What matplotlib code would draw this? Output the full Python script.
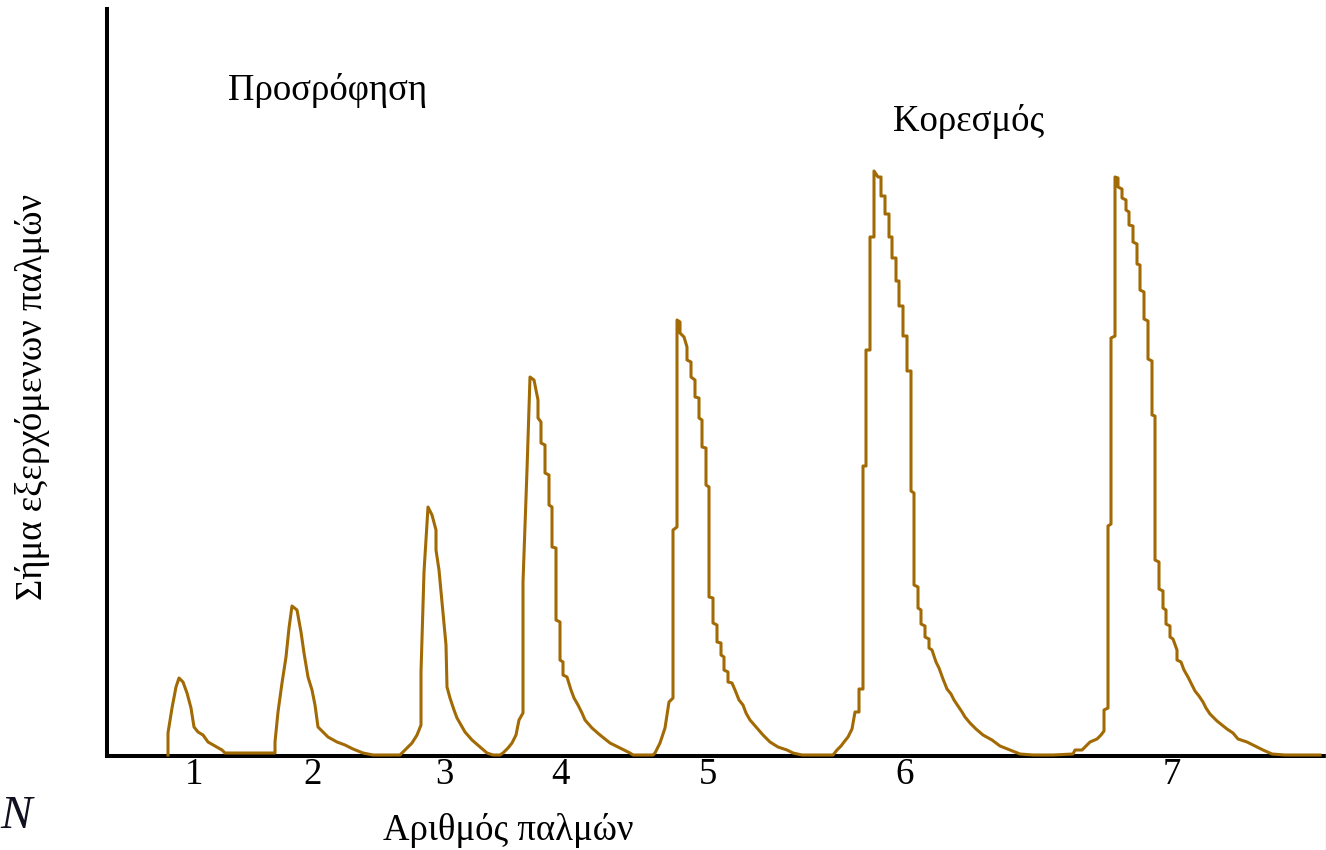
import numpy as np
import matplotlib
matplotlib.use("Agg")
import matplotlib.pyplot as plt
from matplotlib.lines import Line2D

# Detector signal for each pulse (arbitrary time units / signal units)
pulse1_t = [63, 63, 67, 71, 74, 78, 82, 86, 89, 93, 98, 103, 110, 117, 120, 170]
pulse1_s = [0, 22, 47, 68, 77, 73, 62, 47, 28, 23, 20, 13, 9, 5, 2, 2]

pulse2_t = [170, 173, 177, 181, 184, 187, 192, 196, 199, 203, 207, 210, 213, 218, 223,
            232, 240, 248, 258, 268, 295]
pulse2_s = [13, 43, 72, 98, 127, 149, 145, 123, 102, 78, 65, 50, 28, 23, 18,
            13, 10, 6, 2, 0, 0]

pulse3_t = [300, 307, 312, 316, 316, 319, 323, 327, 331, 331, 334, 338, 341, 342, 345,
            349, 352, 356, 360, 367, 375, 382, 388, 395]
pulse3_s = [5, 12, 20, 30, 83, 183, 248, 240, 225, 205, 185, 142, 110, 68, 57,
            45, 37, 30, 23, 15, 8, 2, 0, 0]

pulse4_t = [398, 403, 407, 411, 414, 418, 418, 422, 425, 429, 433, 433, 436, 436, 440,
            440, 444, 444, 447, 447, 451, 451, 455, 455, 458, 458, 462, 466, 469, 473,
            477, 480, 487, 495, 505, 515, 525, 528, 548]
pulse4_s = [2, 7, 12, 20, 35, 42, 173, 285, 378, 375, 355, 337, 333, 312, 310,
            282, 280, 250, 248, 208, 207, 135, 133, 95, 93, 80, 78, 65, 57, 50,
            42, 35, 27, 20, 12, 7, 2, 0, 0]

pulse5_t = [550, 555, 560, 564, 568, 568, 572, 572, 575, 575, 579, 582, 582, 586, 586,
            590, 590, 594, 594, 597, 597, 601, 601, 604, 604, 608, 608, 612, 612, 616,
            616, 619, 619, 623, 623, 627, 630, 634, 638, 641, 645, 652, 658, 665, 673,
            682, 688, 697, 728]
pulse5_s = [2, 12, 27, 53, 57, 225, 228, 435, 433, 422, 418, 408, 395, 393, 378,
            375, 358, 357, 337, 335, 308, 307, 270, 268, 158, 157, 132, 130, 113, 112,
            100, 98, 85, 83, 73, 72, 65, 55, 50, 42, 35, 27, 20, 13, 8,
            5, 2, 0, 0]

pulse6_t = [732, 736, 739, 743, 747, 750, 754, 754, 758, 758, 761, 761, 765, 765, 769,
            769, 773, 776, 776, 780, 780, 784, 784, 787, 787, 791, 791, 794, 794, 798,
            798, 802, 802, 806, 806, 809, 809, 813, 813, 816, 816, 820, 820, 824, 824,
            827, 831, 834, 838, 842, 846, 849, 853, 857, 860, 865, 871, 878, 887, 895,
            905, 915, 928, 948]
pulse6_s = [5, 9, 13, 18, 26, 43, 43, 66, 66, 289, 289, 405, 405, 518, 518,
            584, 578, 578, 559, 559, 541, 541, 518, 518, 497, 497, 474, 474, 449, 449,
            419, 419, 384, 384, 264, 262, 170, 168, 147, 145, 131, 129, 118, 116, 107,
            105, 93, 87, 76, 66, 61, 55, 49, 43, 38, 32, 26, 20, 15, 9,
            5, 1, 0, 0]

pulse7_t = [968, 970, 977, 981, 985, 992, 996, 999, 999, 1003, 1003, 1006, 1006, 1010, 1010,
            1013, 1013, 1017, 1017, 1021, 1021, 1024, 1024, 1028, 1028, 1032, 1032, 1035, 1035, 1039,
            1039, 1043, 1043, 1047, 1047, 1050, 1050, 1054, 1054, 1058, 1058, 1061, 1061, 1065, 1065,
            1068, 1072, 1072, 1076, 1079, 1083, 1087, 1090, 1094, 1098, 1101, 1105, 1108, 1112, 1117,
            1122, 1128, 1133, 1142, 1150, 1158, 1167, 1180, 1215]
pulse7_s = [1, 5, 5, 9, 13, 16, 20, 24, 45, 47, 229, 231, 417, 419, 578,
            577, 568, 566, 557, 555, 545, 543, 530, 529, 513, 511, 491, 490, 465, 463,
            436, 434, 396, 394, 340, 339, 195, 193, 166, 164, 147, 145, 131, 129, 118,
            116, 105, 95, 93, 85, 78, 70, 64, 59, 53, 47, 41, 38, 34, 30,
            26, 22, 16, 13, 9, 5, 1, 0, 0]

# Pulse-number labels along the time axis
tick_pos = [89, 208, 339, 455, 603, 800, 1067]
tick_labels = ["1", "2", "3", "4", "5", "6", "7"]

line_color = "#a26a04"
serif = ["Liberation Serif", "DejaVu Serif"]
fs = 26.5

t = np.concatenate([pulse1_t, pulse2_t, pulse3_t, pulse4_t, pulse5_t, pulse6_t, pulse7_t])
s = np.concatenate([pulse1_s, pulse2_s, pulse3_s, pulse4_s, pulse5_s, pulse6_s, pulse7_s])

W, H = 1326, 850
fig = plt.figure(figsize=(W / 100, H / 100), dpi=100)
ax = fig.add_axes([107 / W, (H - 756) / H, (W - 107) / W, (756 - 9) / H])

ax.plot(t, s, color=line_color, linewidth=2.2, zorder=3, clip_on=False)

ax.set_xlim(2, 1221)
ax.set_ylim(-1, 746)

for side in ("top", "right"):
    ax.spines[side].set_visible(False)
for side in ("left", "bottom"):
    ax.spines[side].set_linewidth(2.9)
    ax.spines[side].set_color("black")
    ax.spines[side].set_zorder(2)

ax.set_yticks([])
ax.set_xticks(tick_pos)
ax.set_xticklabels(tick_labels, family=serif, fontsize=fs)
ax.tick_params(axis="x", length=0, pad=1)

# labels and annotations (positions in figure pixels)
def px(x, y):
    return x / W, 1 - y / H

fig.text(*px(508, 830), "Αριθμός παλμών", family=serif, fontsize=fs,
         ha="center", va="center")
fig.text(*px(33, 397), "Σήμα εξερχόμενων παλμών", family=serif, fontsize=fs,
         ha="center", va="center", rotation=90)
fig.text(*px(228, 100), "Προσρόφηση", family=serif, fontsize=fs,
         ha="left", va="baseline")
fig.text(*px(893, 131), "Κορεσμός", family=serif, fontsize=fs,
         ha="left", va="baseline")
fig.text(*px(0, 828), "N", family=serif, fontsize=34, style="italic",
         color="#101020", ha="left", va="baseline")

fig.add_artist(Line2D([1325.5 / W, 1325.5 / W], [0, 1], color="#f6c4bc",
                      linewidth=1.0, transform=fig.transFigure))

fig.savefig("out.png", dpi=100)
